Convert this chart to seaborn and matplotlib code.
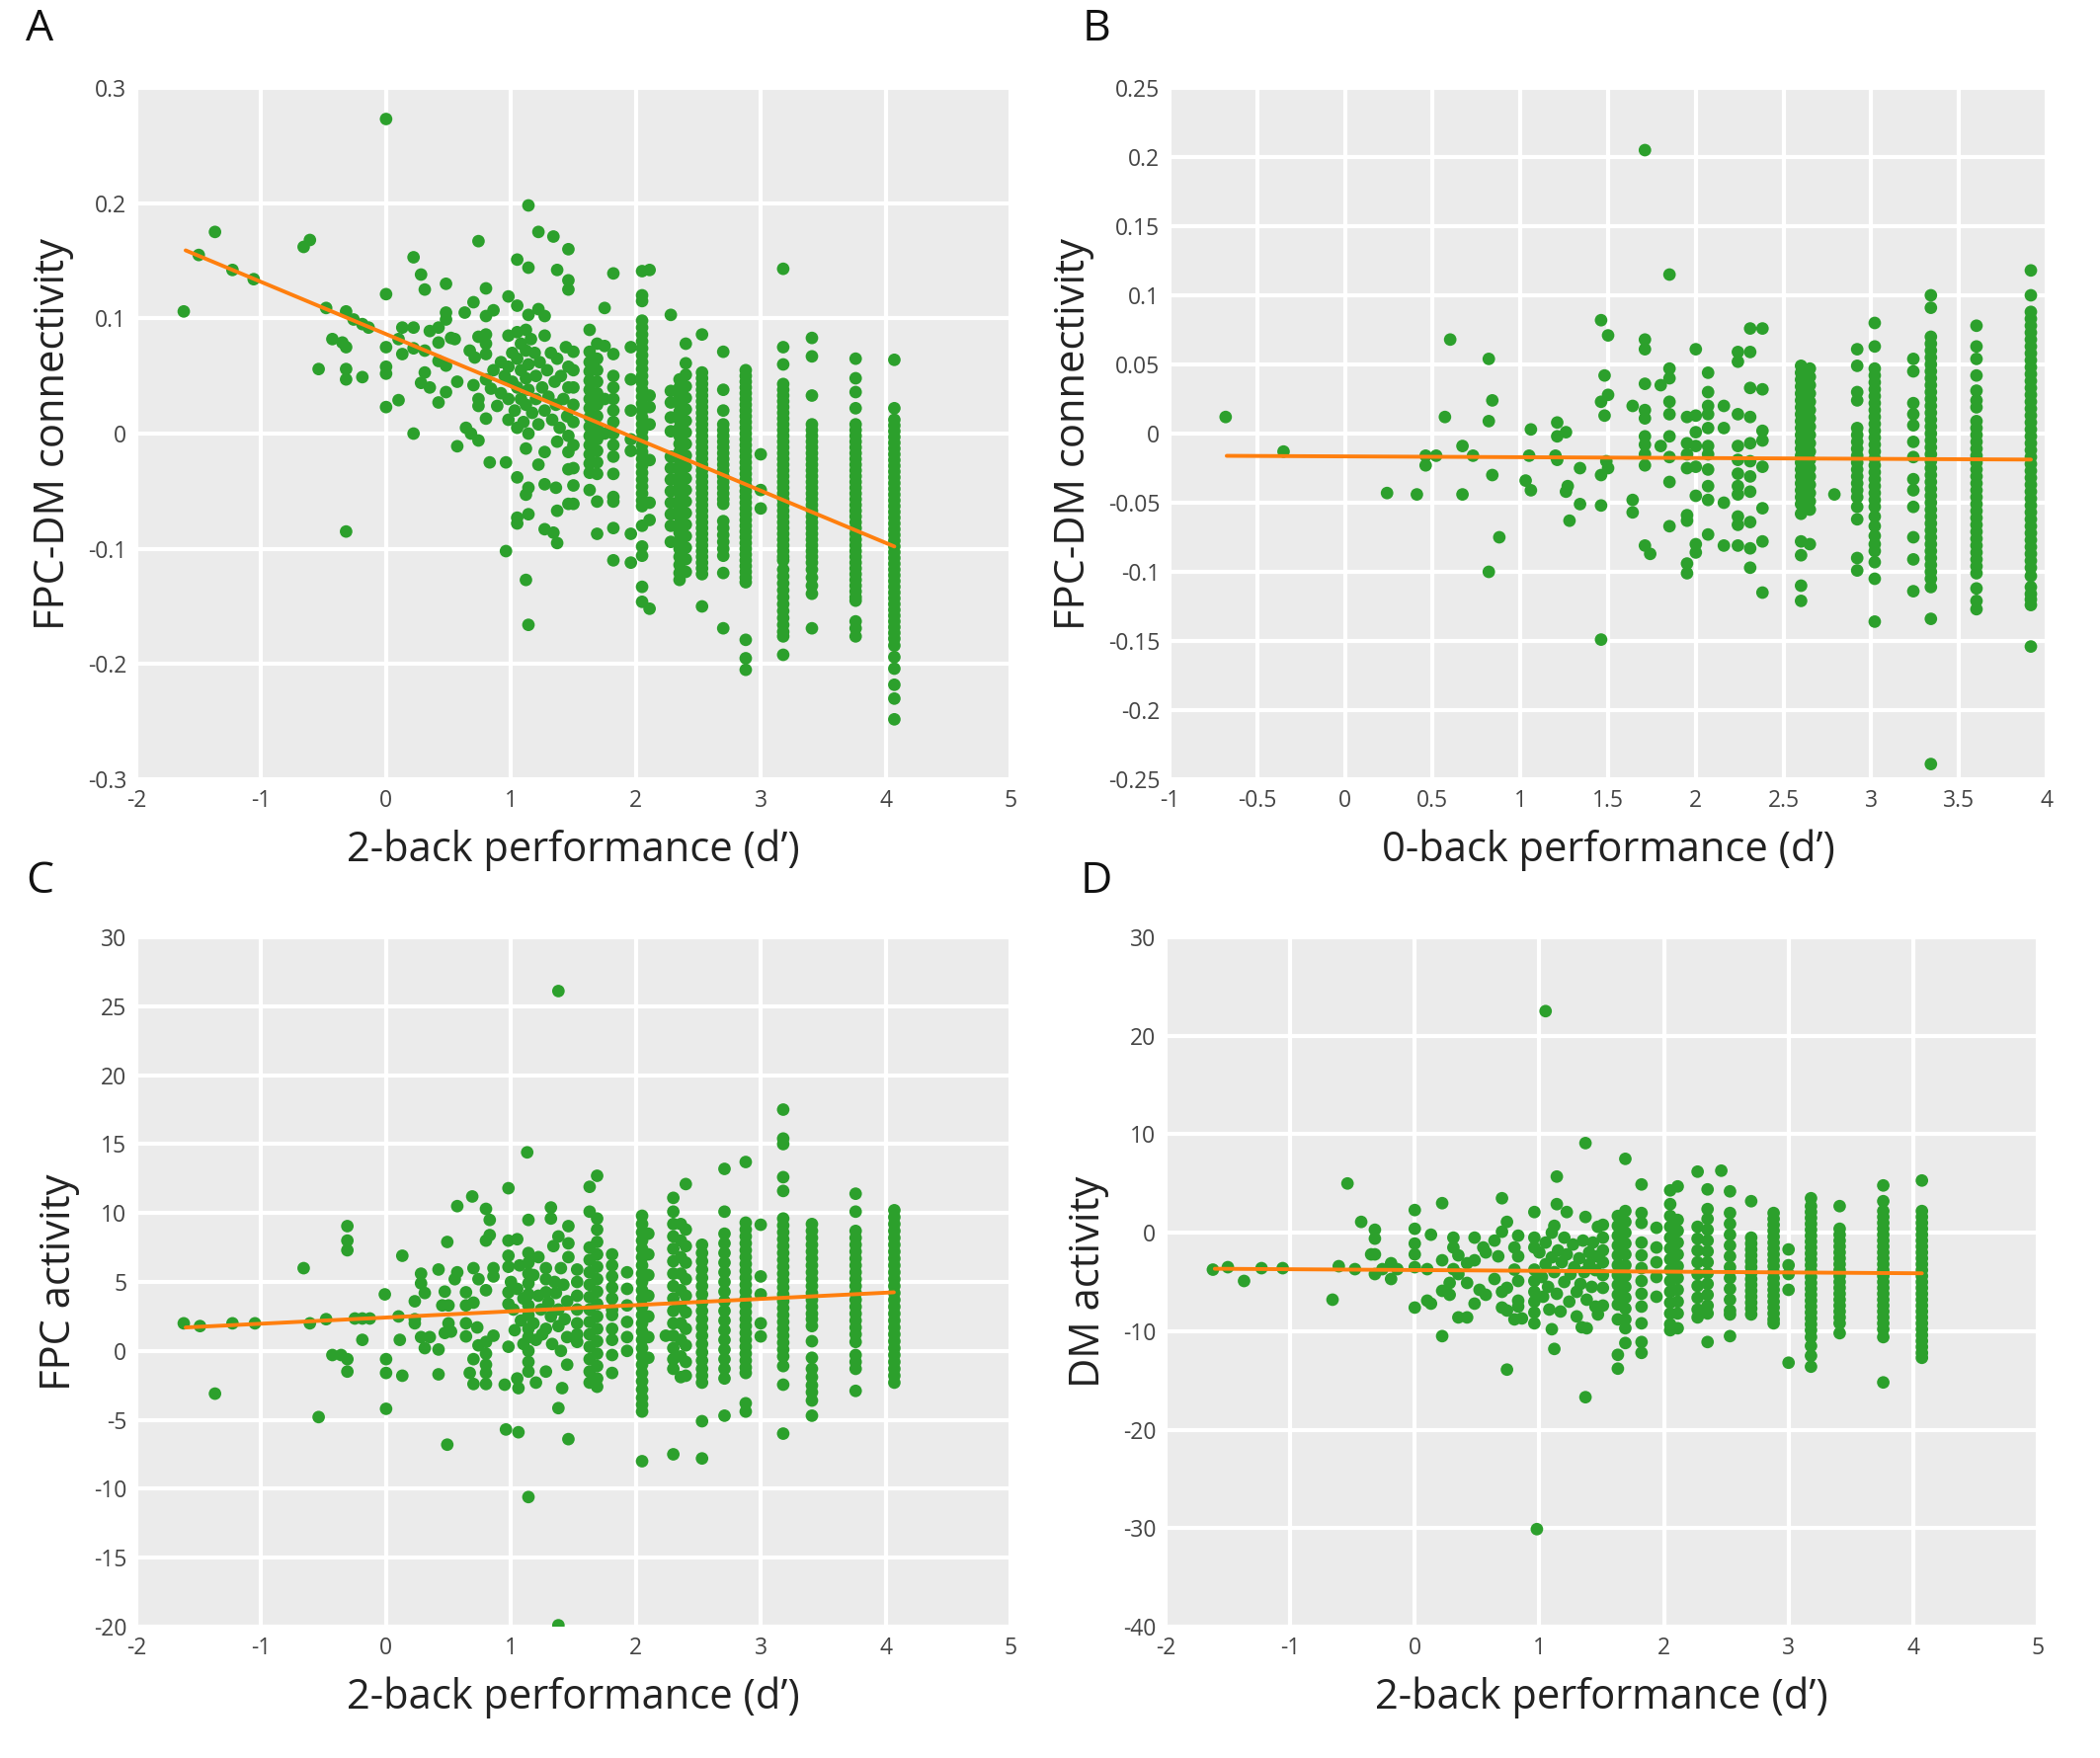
import numpy as np
import pandas as pd
import matplotlib
matplotlib.use("Agg")
import matplotlib.pyplot as plt
import seaborn as sns

# ---------------- Panel A: 2-back vs FPC-DM connectivity ----------------
A_x = [-1.62,-1.5,-1.37,-1.23,-1.06,-0.66,-0.61,-0.48,-0.54,-0.43,-0.35,-0.32,-0.32,-0.32,-0.32,-0.26,-0.19,-0.14,-0.19,-0.32,
       0,0,0,0,0,0,0.1,0.13,0.22,0.13,0.1,0.22,0.28,0.31,0.22,0.22,0.31,0.28,0.35,0.31,0.35,0.42,0.42,0.42,0.48,0.48,0.48,0.48,
       0.42,0.48,0.52,0.55,0.57,0.57,0.64,0.63,0.7,0.74,0.8,0.86,0.8,0.8,0.8,0.8,0.74,0.67,0.71,0.7,0.74,0.74,0.8,0.68,0.74,0.83,
       0.8,0.84,0.86,0.89,0.96,0.96,0.98,1.05,1.14,1.22,1.34,1.46,1.14,1.37,1.46,1.46,1.05,1.14,1.22,1.27,
       1.05,1.14,1.12,1.05,1.05,1.14,1.12,1.14,1.27,1.36,1.27,1.34,1.37,1.37,1.46,1.22,1.46,1.37,1.46,1.12,1.27,
       0.92,0.92,0.95,0.98,0.98,0.98,0.98,1.01,1.01,1.03,1.05,1.05,1.05,1.05,1.08,1.08,1.08,1.1,1.12,1.12,1.12,1.12,1.14,1.14,1.14,
       1.16,1.17,1.19,1.2,1.2,1.22,1.23,1.25,1.27,1.27,1.29,1.3,1.32,1.33,1.35,1.36,1.37,1.39,1.4,1.42,1.44,1.45,1.46,1.46,1.46]
A_y = [0.106,0.155,0.175,0.142,0.134,0.162,0.168,0.109,0.056,0.082,0.079,0.075,0.106,0.056,0.047,0.099,0.095,0.092,0.049,-0.085,
       0.273,0.121,0.075,0.058,0.052,0.023,0.082,0.092,0.092,0.069,0.029,0.153,0.138,0.125,0.0,0.074,0.072,0.044,0.04,0.053,0.089,
       0.092,0.079,0.027,0.13,0.105,0.099,0.036,0.063,0.059,0.083,0.082,0.045,-0.011,0.005,0.105,0.114,0.167,0.126,0.107,0.102,0.086,
       0.078,0.069,0.084,0.072,0.066,0.042,0.03,0.024,0.013,0.0,-0.006,-0.025,0.047,0.039,0.055,0.024,-0.025,-0.102,0.119,0.151,0.198,
       0.175,0.171,0.16,0.144,0.142,0.133,0.125,0.111,0.103,0.108,0.102,
       -0.038,-0.047,-0.053,-0.073,-0.078,-0.07,-0.127,-0.166,-0.044,-0.047,-0.083,-0.086,-0.095,-0.067,-0.061,-0.027,-0.031,-0.007,
       -0.016,-0.013,-0.016,
       0.062,0.035,0.05,0.085,0.058,0.03,0.012,0.07,0.045,0.02,0.088,0.065,0.04,0.005,0.078,0.055,0.03,0.01,0.09,0.072,0.048,0.025,
       0.06,0.038,0.0,0.082,0.018,0.07,0.05,0.03,0.008,0.062,0.04,0.085,0.02,0.055,0.032,0.07,0.012,0.045,0.025,0.065,0.005,0.05,
       0.03,0.075,0.015,0.058,0.04,-0.002]
A_col_x = [1.5, 1.63, 1.69, 1.75, 1.82, 1.96, 2.05, 2.11, 2.28, 2.35, 2.4, 2.53, 2.7, 2.88, 3.0, 3.18, 3.41, 3.76, 4.07]
A_col_y = [
    [0.071, 0.055, 0.04, 0.025, 0.01, -0.01, -0.03, -0.045, -0.061],
    [0.09, 0.071, 0.062, 0.054, 0.046, 0.038, 0.03, 0.022, 0.014, 0.006, -0.002, -0.01, -0.018, -0.026, -0.034, -0.049],
    [0.078, 0.065, 0.055, 0.045, 0.035, 0.025, 0.015, 0.005, -0.005, -0.015, -0.025, -0.035, -0.059, -0.087],
    [0.109, 0.076, 0.03, 0.0],
    [0.139, 0.069, 0.05, 0.04, 0.03, 0.02, 0.01, 0.0, -0.01, -0.02, -0.035, -0.055, -0.059, -0.082, -0.11],
    [0.075, 0.047, 0.02, -0.005, -0.015, -0.087, -0.112],
    [0.141, 0.12, 0.115, 0.098, 0.092, 0.086, 0.08, 0.074, 0.068, 0.062, 0.056, 0.05, 0.044, 0.038, 0.032, 0.026, 0.02,
     0.014, 0.008, 0.002, -0.004, -0.01, -0.016, -0.022, -0.028, -0.034, -0.04, -0.046, -0.052, -0.058, -0.063, -0.08,
     -0.098, -0.106, -0.133, -0.146],
    [0.142, 0.033, 0.023, 0.008, -0.023, -0.06, -0.075, -0.152],
    [0.103, 0.037, 0.027, 0.014, 0.002, -0.02, -0.03, -0.04, -0.05, -0.06, -0.07, -0.08, -0.094],
    [0.047, 0.04, 0.033, 0.026, 0.019, 0.012, 0.005, -0.002, -0.009, -0.016, -0.023, -0.03, -0.037, -0.044, -0.051, -0.058,
     -0.065, -0.072, -0.079, -0.086, -0.093, -0.1, -0.107, -0.114, -0.121, -0.127],
    [0.078, 0.061, 0.051, 0.041, 0.031, 0.021, 0.011, 0.001, -0.009, -0.019, -0.029, -0.039, -0.049, -0.059, -0.069, -0.079,
     -0.089, -0.099, -0.109, -0.12],
    [0.086, 0.053, 0.048, 0.043, 0.038, 0.033, 0.028, 0.023, 0.018, 0.013, 0.008, 0.003, -0.002, -0.007, -0.012, -0.017,
     -0.022, -0.027, -0.032, -0.037, -0.042, -0.047, -0.052, -0.057, -0.062, -0.067, -0.072, -0.077, -0.082, -0.087, -0.092,
     -0.097, -0.102, -0.107, -0.112, -0.117, -0.122, -0.15],
    [0.071, 0.038, 0.02, 0.008, 0.003, -0.002, -0.007, -0.012, -0.017, -0.022, -0.027, -0.032, -0.037, -0.042, -0.047, -0.052,
     -0.057, -0.061, -0.076, -0.082, -0.088, -0.094, -0.1, -0.106, -0.121, -0.169],
    [0.055, 0.05, 0.045, 0.04, 0.035, 0.03, 0.025, 0.02, 0.015, 0.01, 0.005, 0.0, -0.005, -0.01, -0.015, -0.02, -0.025, -0.03,
     -0.035, -0.04, -0.045, -0.05, -0.055, -0.06, -0.065, -0.07, -0.075, -0.08, -0.085, -0.09, -0.095, -0.1, -0.105, -0.11,
     -0.115, -0.12, -0.125, -0.129, -0.179, -0.195, -0.205],
    [-0.018, -0.049, -0.065],
    [0.143, 0.075, 0.06, 0.043, 0.038, 0.033, 0.028, 0.023, 0.018, 0.013, 0.008, 0.003, -0.002, -0.007, -0.012, -0.017, -0.022,
     -0.027, -0.032, -0.037, -0.042, -0.047, -0.052, -0.057, -0.062, -0.067, -0.072, -0.077, -0.082, -0.087, -0.092, -0.097,
     -0.102, -0.107, -0.11, -0.118, -0.124, -0.13, -0.136, -0.142, -0.148, -0.154, -0.16, -0.166, -0.172, -0.176, -0.192],
    [0.083, 0.067, 0.033, 0.008, 0.003, -0.002, -0.007, -0.012, -0.017, -0.022, -0.027, -0.032, -0.037, -0.042, -0.047, -0.052,
     -0.057, -0.062, -0.067, -0.072, -0.077, -0.082, -0.087, -0.092, -0.097, -0.102, -0.107, -0.112, -0.118, -0.125, -0.132,
     -0.139, -0.169],
    [0.065, 0.048, 0.036, 0.022, 0.008, 0.003, -0.002, -0.007, -0.012, -0.017, -0.022, -0.027, -0.032, -0.037, -0.042, -0.047,
     -0.052, -0.057, -0.062, -0.067, -0.072, -0.077, -0.082, -0.087, -0.092, -0.097, -0.102, -0.107, -0.112, -0.117, -0.122,
     -0.127, -0.132, -0.137, -0.142, -0.145, -0.163, -0.169, -0.176],
    [0.064, 0.022, 0.012, 0.007, 0.002, -0.003, -0.008, -0.013, -0.018, -0.023, -0.028, -0.033, -0.038, -0.043, -0.048, -0.053,
     -0.058, -0.063, -0.068, -0.073, -0.078, -0.083, -0.088, -0.093, -0.098, -0.103, -0.108, -0.113, -0.118, -0.123, -0.128,
     -0.133, -0.138, -0.143, -0.148, -0.153, -0.158, -0.163, -0.168, -0.173, -0.178, -0.184, -0.194, -0.204, -0.218, -0.23,
     -0.248],
]
A_fit_x = [-1.605, 4.07]
A_fit_y = [0.159, -0.098]

# ---------------- Panel B: 0-back vs FPC-DM connectivity ----------------
B_x = [-0.68,-0.35,0.24,0.41,0.46,0.52,0.46,0.57,0.6,0.67,0.73,0.67,0.82,0.84,0.82,0.84,0.88,0.82,1.06,1.05,1.03,1.06,1.21,1.26,
       1.21,1.2,1.21,1.34,1.27,1.26,1.34,1.28,1.46,1.5,1.48,1.5,1.46,1.48,1.46,1.46,1.46,1.49,1.5,
       1.71,1.85,1.71,1.71,1.71,1.64,1.71,1.71,1.71,1.71,1.71,1.71,1.64,1.64,1.71,1.74,1.8,1.85,1.85,1.85,1.85,1.8,1.85,1.85,1.85,
       1.85,1.95,2.0,1.95,1.95,1.95,2.0,2.0,2.0,2.0,2.0,1.95,1.95,1.95,1.95,2.0,2.0,2.79]
B_y = [0.012,-0.013,-0.043,-0.044,-0.016,-0.016,-0.023,0.012,0.068,-0.009,-0.016,-0.044,0.054,0.024,0.009,-0.03,-0.075,-0.1,0.003,
       -0.016,-0.034,-0.041,0.008,0.001,-0.002,-0.016,-0.019,-0.025,-0.038,-0.042,-0.051,-0.063,0.082,0.071,0.042,0.028,0.023,0.013,
       -0.03,-0.052,-0.149,-0.02,-0.025,
       0.205,0.115,0.068,0.061,0.036,0.02,0.017,0.011,-0.002,-0.008,-0.015,-0.023,-0.048,-0.057,-0.081,-0.087,0.035,0.047,0.04,0.023,
       0.014,-0.009,-0.002,-0.017,-0.035,-0.067,0.012,0.013,-0.007,-0.015,-0.025,0.061,0.001,-0.009,-0.024,-0.045,-0.059,-0.063,
       -0.094,-0.101,-0.08,-0.086,-0.044]
B_col_x = [2.07, 2.16, 2.24, 2.31, 2.38, 2.6, 2.65, 2.92, 3.02, 3.24, 3.34, 3.6, 3.91]
B_col_y = [
    [0.044, 0.03, 0.02, 0.014, 0.004, -0.009, -0.015, -0.026, -0.038, -0.048, -0.073],
    [0.02, 0.004, -0.05, -0.081],
    [0.059, 0.052, 0.014, -0.009, -0.019, -0.029, -0.038, -0.044, -0.06, -0.066, -0.081],
    [0.076, 0.059, 0.033, 0.012, -0.007, -0.02, -0.031, -0.042, -0.064, -0.083, -0.097],
    [0.076, 0.032, 0.002, -0.005, -0.024, -0.054, -0.078, -0.115],
    [0.049, 0.044, 0.039, 0.034, 0.029, 0.024, 0.019, 0.014, 0.009, 0.004, -0.001, -0.006, -0.011, -0.016, -0.021, -0.026,
     -0.031, -0.036, -0.041, -0.046, -0.051, -0.058, -0.078, -0.088, -0.11, -0.121],
    [0.047, 0.041, 0.035, 0.029, 0.023, 0.017, 0.011, 0.005, -0.001, -0.007, -0.013, -0.019, -0.025, -0.031, -0.037, -0.043,
     -0.049, -0.055, -0.08],
    [0.061, 0.049, 0.03, 0.024, 0.004, -0.001, -0.006, -0.011, -0.016, -0.021, -0.026, -0.031, -0.036, -0.041, -0.046, -0.053,
     -0.062, -0.09, -0.099],
    [0.08, 0.063, 0.047, 0.042, 0.037, 0.032, 0.027, 0.022, 0.017, 0.012, 0.007, 0.002, -0.003, -0.008, -0.013, -0.018, -0.023,
     -0.028, -0.033, -0.038, -0.043, -0.048, -0.053, -0.06, -0.067, -0.074, -0.08, -0.085, -0.093, -0.105, -0.136],
    [0.054, 0.045, 0.022, 0.014, 0.006, -0.006, -0.017, -0.033, -0.041, -0.053, -0.075, -0.091, -0.114],
    [0.1, 0.091, 0.07, 0.065, 0.06, 0.055, 0.05, 0.045, 0.04, 0.035, 0.03, 0.025, 0.02, 0.015, 0.01, 0.005, 0.0, -0.005, -0.01,
     -0.015, -0.02, -0.025, -0.03, -0.035, -0.04, -0.045, -0.05, -0.055, -0.06, -0.065, -0.07, -0.075, -0.08, -0.085, -0.09,
     -0.095, -0.1, -0.105, -0.111, -0.134, -0.239],
    [0.078, 0.063, 0.054, 0.042, 0.031, 0.024, 0.019, 0.009, 0.004, -0.001, -0.006, -0.011, -0.016, -0.021, -0.026, -0.031,
     -0.036, -0.041, -0.046, -0.051, -0.056, -0.061, -0.066, -0.071, -0.076, -0.081, -0.086, -0.091, -0.096, -0.101, -0.112,
     -0.121, -0.127],
    [0.118, 0.1, 0.088, 0.083, 0.078, 0.073, 0.068, 0.063, 0.058, 0.053, 0.048, 0.043, 0.038, 0.033, 0.028, 0.023, 0.018,
     0.013, 0.008, 0.003, -0.002, -0.007, -0.012, -0.017, -0.022, -0.027, -0.032, -0.037, -0.042, -0.047, -0.052, -0.057,
     -0.062, -0.067, -0.072, -0.077, -0.082, -0.087, -0.092, -0.097, -0.103, -0.111, -0.116, -0.12, -0.124, -0.154],
]
B_fit_x = [-0.674, 3.91]
B_fit_y = [-0.0161, -0.0188]

# ---------------- Panel C: 2-back vs FPC activity ----------------
C_x = [-1.62,-1.49,-1.37,-1.23,-1.05,-0.66,-0.61,-0.54,-0.48,-0.43,-0.36,-0.31,-0.31,-0.31,-0.31,-0.31,-0.25,-0.19,-0.13,-0.19,
       -0.01,0,0,0,0.1,0.11,0.13,0.13,0.23,0.23,0.23,0.28,0.28,0.31,0.28,0.35,0.31,0.42,0.42,0.42,0.49,0.49,0.47,0.5,0.45,0.52,
       0.5,0.47,0.57,0.55,0.57,0.69,0.8,0.83,0.8,0.83,0.64,0.64,0.7,0.64,0.64,0.73,0.7,0.74,0.8,0.67,0.7,0.8,0.74,0.8,0.7,0.8,0.8,
       0.86,0.86,0.86,0.8,0.95,0.96,0.98,0.98,1.05,0.98,0.98,0.98,0.98,0.98,1.05,1.06,1.06,1.13,1.14,1.14,
       1.14,1.14,1.14,1.14,1.14,1.14,1.14,1.14,1.14,1.14,1.14,1.14,
       1.2,1.32,1.32,1.28,1.28,1.28,1.28,1.28,1.34,1.38,1.38,1.38,1.41,1.38,1.46,1.46,1.46,1.46,
       1.0,1.02,1.03,1.05,1.07,1.08,1.1,1.1,1.18,1.18,1.2,1.22,1.22,1.24,1.25,1.3,1.32,1.33,1.35,1.36,1.38,1.38,1.4,1.4,1.42,
       1.43,1.45,1.45,1.45,2.24]
C_y = [2.0,1.8,-3.1,2.0,2.0,6.0,2.0,-4.8,2.3,-0.3,-0.3,-0.6,9.05,8.0,7.3,-1.5,2.35,2.35,2.35,0.8,
       4.1,-0.6,-1.6,-4.2,2.5,0.8,6.9,-1.8,3.6,2.3,2.0,5.6,4.9,4.2,1.0,1.0,0.2,5.9,0.1,-1.7,7.9,-6.8,4.3,3.3,3.3,1.4,
       2.0,1.3,10.5,5.2,5.7,11.2,10.3,9.5,8.0,8.4,4.25,3.3,3.5,2.0,1.05,1.7,6.0,5.2,4.4,-1.6,-2.4,-2.4,0.4,-0.2,-0.6,-1.0,-1.6,
       6.0,5.4,1.1,0.65,-2.45,-5.7,11.8,8.0,8.1,6.9,6.1,4.25,3.4,0.3,-2.0,-2.7,-5.9,14.4,9.5,-10.6,
       7.1,6.4,5.6,4.9,4.1,3.3,2.6,1.6,1.0,0.0,-0.8,-1.5,
       -2.3,10.4,9.6,6.0,5.2,4.25,1.6,-1.5,7.6,8.3,26.1,-4.15,-2.7,-19.9,9.05,7.8,6.8,-6.4,
       5.0,3.0,1.5,4.5,6.2,2.2,0.5,3.8,5.5,2.0,0.8,4.0,6.8,3.0,1.2,3.5,2.5,0.5,5.0,4.2,3.0,1.8,6.0,0.0,4.8,
       2.3,3.6,1.0,-1.0,1.1]
C_col_x = [1.53, 1.63, 1.69, 1.81, 1.93, 2.05, 2.1, 2.3, 2.36, 2.4, 2.53, 2.71, 2.88, 3.0, 3.18, 3.41, 3.76, 4.07]
C_col_y = [
    [5.9, 5.0, 4.0, 3.0, 2.0, 1.2, 0.65],
    [11.9, 10.1, 7.5, 6.6, 5.7, 4.8, 3.9, 3.0, 2.1, 1.2, 0.3, -0.6, -1.5, -2.3],
    [12.7, 9.6, 8.8, 7.9, 7.0, 6.1, 5.2, 4.3, 3.4, 2.5, 1.6, 0.7, -0.2, -1.1, -2.0, -2.6],
    [7.0, 6.2, 5.4, 4.6, 3.8, 3.0, 2.6, 1.6, 0.8, -0.3, -1.6],
    [5.7, 4.5, 3.3, 2.1, 1.0, 0.0],
    [9.8, 9.2, 8.6, 8.0, 7.4, 6.8, 6.2, 5.6, 5.0, 4.4, 3.8, 3.2, 2.6, 2.0, 1.4, 0.8, 0.2, -0.4, -1.0, -1.6, -2.2, -2.8,
     -3.4, -3.9, -4.4, -8.0],
    [8.5, 7.0, 5.5, 4.0, 2.5, 1.0, -0.5],
    [11.1, 10.1, 9.2, 8.3, 7.4, 6.5, 5.6, 4.7, 3.8, 2.9, 2.0, 1.1, 0.2, -0.6, -1.3, -7.5],
    [9.2, 8.0, 6.8, 5.6, 4.4, 3.2, 2.0, 0.8, -0.4, -1.9],
    [12.1, 8.8, 7.6, 6.4, 5.2, 4.0, 2.8, 1.6, 0.4, -0.8, -1.8],
    [7.7, 7.1, 6.5, 5.9, 5.3, 4.7, 4.1, 3.5, 2.9, 2.3, 1.7, 1.1, 0.5, -0.1, -0.7, -1.3, -1.8, -2.3, -5.1, -7.8],
    [13.2, 10.1, 8.5, 7.8, 7.1, 6.4, 5.7, 5.0, 4.3, 3.6, 2.9, 2.2, 1.5, 0.8, 0.1, -0.6, -1.3, -2.0, -4.7],
    [13.7, 9.3, 8.8, 8.3, 7.8, 7.3, 6.8, 6.3, 5.8, 5.3, 4.8, 4.3, 3.8, 3.3, 2.8, 2.3, 1.8, 1.3, 0.8, 0.3, -0.2, -0.7,
     -1.2, -1.6, -3.8, -4.4],
    [9.15, 5.4, 4.1, 2.0, 1.05],
    [17.5, 15.4, 15.0, 12.6, 11.6, 9.6, 9.1, 8.6, 8.1, 7.6, 7.1, 6.6, 6.1, 5.6, 5.1, 4.6, 4.1, 3.6, 3.1, 2.6, 2.1, 1.6,
     1.1, 0.6, 0.1, -0.4, -1.1, -2.45, -6.0],
    [9.2, 8.7, 8.2, 7.7, 7.2, 6.7, 6.2, 5.7, 5.2, 4.7, 4.2, 3.7, 3.2, 2.7, 2.3, 1.8, 0.7, -0.5, -1.3, -1.9, -2.5, -3.0,
     -3.6, -4.7],
    [11.4, 10.1, 8.7, 8.2, 7.7, 7.2, 6.7, 6.2, 5.7, 5.2, 4.7, 4.2, 3.7, 3.2, 2.7, 2.2, 1.7, 1.2, 0.65, -0.3, -0.8, -1.3, -2.9],
    [10.2, 9.7, 9.2, 8.7, 8.2, 7.7, 7.2, 6.7, 6.2, 5.7, 5.2, 4.7, 4.2, 3.7, 3.2, 2.7, 2.2, 1.7, 1.2, 0.7, 0.2, -0.3, -0.8,
     -1.3, -1.8, -2.3],
]
C_fit_x = [-1.605, 4.066]
C_fit_y = [1.7, 4.25]

# ---------------- Panel D: 2-back vs DM activity ----------------
D_x = [-1.62,-1.5,-1.37,-1.23,-1.06,-0.66,-0.54,-0.61,-0.48,-0.43,-0.32,-0.32,-0.35,-0.32,-0.32,-0.26,-0.19,-0.19,-0.14,
       0,0,0,0,0,0,0.1,0.1,0.13,0.13,0.22,0.22,0.22,0.28,0.28,0.22,0.31,0.31,0.35,0.31,0.35,0.35,0.42,0.42,0.48,0.48,0.42,0.48,
       0.55,0.57,0.52,0.57,0.64,0.67,0.64,0.7,0.7,0.74,0.7,0.74,0.7,0.74,0.74,0.8,0.86,0.83,0.8,0.83,0.8,0.83,0.83,0.83,
       0.96,0.96,0.96,0.96,0.96,0.96,0.96,0.96,0.96,0.98,1.05,1.14,1.14,1.22,1.12,1.1,1.12,1.37,1.37,1.37,1.34,1.38,1.47,1.47,
       1.0,1.02,1.03,1.05,1.05,1.07,1.08,1.1,1.1,1.12,1.14,1.15,1.17,1.18,1.2,1.2,1.22,1.24,1.25,1.27,1.28,1.3,1.3,1.32,1.33,
       1.35,1.36,1.38,1.4,1.4,1.42,1.43,1.45,1.45,1.46,2.46]
D_y = [-3.75,-3.5,-4.9,-3.6,-3.6,-6.8,5.0,-3.4,-3.7,1.1,0.3,-0.6,-2.2,-2.2,-4.2,-3.7,-3.1,-4.7,-3.7,
       2.3,0.4,-1.1,-2.2,-3.5,-7.6,-3.7,-6.9,-7.2,-0.2,3.0,-2.8,-5.9,-5.1,-6.3,-10.5,-0.5,-1.5,-2.3,-3.7,-4.2,-8.6,-8.6,-3.1,
       -2.8,-0.5,-5.1,-7.2,-1.5,-2.0,-5.8,-6.3,-0.8,-2.4,-4.7,3.5,0.1,1.1,-6.0,-5.6,-7.6,-7.9,-13.9,-8.8,-8.7,-0.3,-1.5,-2.4,
       -3.75,-4.9,-6.9,-7.5,2.1,-0.5,-1.5,-3.75,-4.9,-6.0,-7.0,-8.1,-9.2,-30.1,22.5,5.7,2.9,2.1,0.7,-9.8,-11.8,9.1,1.6,-16.7,
       -9.6,-9.7,0.6,-8.3,
       -2.0,-4.5,-6.5,-1.0,-3.2,-5.5,-7.8,-2.5,0.0,-4.0,-6.2,-1.8,-8.0,-3.0,-5.0,-0.5,-2.2,-7.0,-4.2,-1.2,-3.5,-6.0,-8.5,-2.6,
       -5.2,-0.8,-4.0,-6.8,-2.0,-3.2,-5.5,-1.0,-7.5,-3.8,-2.4,6.3]
D_col_x = [1.51, 1.63, 1.69, 1.82, 1.94, 2.05, 2.11, 2.27, 2.35, 2.53, 2.7, 2.88, 3.0, 3.18, 3.41, 3.76, 4.07]
D_col_y = [
    [0.8, -0.5, -1.8, -3.0, -4.3, -5.6, -7.4],
    [1.7, 0.7, -0.3, -1.3, -2.3, -3.3, -4.3, -5.3, -6.3, -7.3, -8.8, -12.4, -13.8],
    [7.5, 2.2, 1.1, 0.0, -1.1, -2.2, -3.3, -4.4, -5.5, -6.6, -7.7, -8.8, -9.7, -11.2],
    [4.9, 2.0, 1.0, -1.0, -2.3, -3.6, -4.9, -6.2, -7.5, -9.2, -11.1, -12.2],
    [0.5, -1.5, -3.0, -4.5, -6.5],
    [4.3, 2.9, 1.7, 0.6, -0.5, -1.6, -2.7, -3.8, -4.9, -6.0, -7.1, -8.2, -9.3, -9.9],
    [4.7, 1.3, 0.2, -1.0, -2.2, -3.4, -4.6, -5.8, -7.0, -8.2, -9.7],
    [6.2, 0.6, -0.6, -1.8, -3.0, -4.2, -5.4, -6.6, -7.8, -8.6],
    [4.4, 2.4, 1.4, 0.3, -0.8, -1.9, -3.0, -4.1, -5.2, -6.3, -7.4, -8.2, -11.1],
    [4.2, 2.0, 0.9, -0.2, -1.3, -2.4, -3.5, -4.6, -5.7, -6.8, -7.9, -8.3, -10.5],
    [3.2, -0.5, -1.1, -1.7, -2.3, -2.9, -3.5, -4.1, -4.7, -5.3, -5.9, -6.5, -7.1, -7.7, -8.3],
    [2.0, 1.4, 0.8, 0.2, -0.4, -1.0, -1.6, -2.2, -2.8, -3.4, -4.0, -4.6, -5.2, -5.8, -6.4, -7.0, -7.6, -8.2, -8.8, -9.2],
    [-1.7, -3.3, -4.2, -5.8, -13.2],
    [3.5, 2.7, 2.1, 1.5, 0.9, 0.3, -0.3, -0.9, -1.5, -2.1, -2.7, -3.3, -3.9, -4.5, -5.1, -5.7, -6.3, -6.9, -7.5, -8.1, -8.7,
     -9.3, -9.9, -10.6, -11.5, -12.5, -13.6],
    [2.7, 0.4, -0.2, -0.8, -1.4, -2.0, -2.6, -3.2, -3.8, -4.4, -5.0, -5.6, -6.2, -6.8, -7.4, -8.0, -8.6, -9.2, -10.2],
    [4.8, 3.2, 2.2, 1.6, 1.0, 0.4, -0.2, -0.8, -1.4, -2.0, -2.6, -3.2, -3.8, -4.4, -5.0, -5.6, -6.2, -6.8, -7.4, -8.0, -8.6,
     -9.2, -9.8, -10.6, -15.2],
    [5.3, 2.2, 1.6, 1.0, 0.4, -0.2, -0.8, -1.4, -2.0, -2.6, -3.2, -3.8, -4.4, -5.0, -5.6, -6.2, -6.8, -7.4, -8.0, -8.6, -9.2,
     -9.8, -10.4, -11.0, -11.6, -12.2, -12.7],
]
D_fit_x = [-1.605, 4.07]
D_fit_y = [-3.66, -4.12]

# ---------------- Axis text ----------------
xlabels = ["2-back performance (d\u2019)", "0-back performance (d\u2019)",
           "2-back performance (d\u2019)", "2-back performance (d\u2019)"]
ylabels = ["FPC-DM connectivity", "FPC-DM connectivity", "FPC activity", "DM activity"]
panel_letters = ["A", "B", "C", "D"]

x_ticks_2back = [-2, -1, 0, 1, 2, 3, 4, 5]
x_ticklabels_2back = ["-2", "-1", "0", "1", "2", "3", "4", "5"]
x_ticks_0back = [-1, -0.5, 0, 0.5, 1, 1.5, 2, 2.5, 3, 3.5, 4]
x_ticklabels_0back = ["-1", "-0.5", "0", "0.5", "1", "1.5", "2", "2.5", "3", "3.5", "4"]
y_ticks_A = [-0.3, -0.2, -0.1, 0, 0.1, 0.2, 0.3]
y_ticklabels_A = ["-0.3", "-0.2", "-0.1", "0", "0.1", "0.2", "0.3"]
y_ticks_B = [-0.25, -0.2, -0.15, -0.1, -0.05, 0, 0.05, 0.1, 0.15, 0.2, 0.25]
y_ticklabels_B = ["-0.25", "-0.2", "-0.15", "-0.1", "-0.05", "0", "0.05", "0.1", "0.15", "0.2", "0.25"]
y_ticks_C = [-20, -15, -10, -5, 0, 5, 10, 15, 20, 25, 30]
y_ticklabels_C = ["-20", "-15", "-10", "-5", "0", "5", "10", "15", "20", "25", "30"]
y_ticks_D = [-40, -30, -20, -10, 0, 10, 20, 30]
y_ticklabels_D = ["-40", "-30", "-20", "-10", "0", "10", "20", "30"]


def build(px, py, cx, cy):
    xs = list(px)
    ys = list(py)
    for x0, col in zip(cx, cy):
        xs += [x0] * len(col)
        ys += list(col)
    return pd.DataFrame({"x": xs, "y": ys})


frames = [build(A_x, A_y, A_col_x, A_col_y), build(B_x, B_y, B_col_x, B_col_y),
          build(C_x, C_y, C_col_x, C_col_y), build(D_x, D_y, D_col_x, D_col_y)]
fits = [pd.DataFrame({"x": A_fit_x, "y": A_fit_y}), pd.DataFrame({"x": B_fit_x, "y": B_fit_y}),
        pd.DataFrame({"x": C_fit_x, "y": C_fit_y}), pd.DataFrame({"x": D_fit_x, "y": D_fit_y})]

sns.set_theme(style="darkgrid")
plt.rcParams["font.family"] = ["Open Sans", "DejaVu Sans"]
plt.rcParams["axes.unicode_minus"] = False

W, H = 2126, 1780
fig = plt.figure(figsize=(W / 100, H / 100), dpi=100)
fig.patch.set_facecolor("white")

boxes = [(138, 89, 1023, 789), (1184, 89, 2072, 789), (138, 949, 1023, 1647), (1180, 949, 2063, 1647)]
xt = [(x_ticks_2back, x_ticklabels_2back), (x_ticks_0back, x_ticklabels_0back),
      (x_ticks_2back, x_ticklabels_2back), (x_ticks_2back, x_ticklabels_2back)]
yt = [(y_ticks_A, y_ticklabels_A), (y_ticks_B, y_ticklabels_B), (y_ticks_C, y_ticklabels_C), (y_ticks_D, y_ticklabels_D)]
letter_pos = [(40, 30), (1110, 30), (40, 893), (1110, 893)]

green = "#2ca02c"
orange = "#ff7f0e"

for i in range(4):
    l, t, r, b = boxes[i]
    ax = fig.add_axes([l / W, 1 - b / H, (r - l) / W, (b - t) / H])
    ax.set_facecolor("#ebebeb")
    sns.scatterplot(data=frames[i], x="x", y="y", ax=ax, s=84, color=green, alpha=1,
                    linewidth=0, edgecolor="none", zorder=3)
    sns.lineplot(data=fits[i], x="x", y="y", ax=ax, color=orange, lw=2.8, estimator=None,
                 sort=True, zorder=4)
    ticks, labs = xt[i]
    ax.set_xticks(ticks)
    ax.set_xticklabels(labs)
    ax.set_xlim(ticks[0], ticks[-1])
    ticks, labs = yt[i]
    ax.set_yticks(ticks)
    ax.set_yticklabels(labs)
    ax.set_ylim(ticks[0], ticks[-1])
    ax.grid(True, color="white", lw=3.0)
    ax.set_axisbelow(True)
    for s in ax.spines.values():
        s.set_visible(False)
    ax.tick_params(length=0, labelsize=16.5, labelcolor="#444444", pad=7)
    ax.set_xlabel(xlabels[i], fontsize=30, color="#222222", labelpad=12)
    ax.set_ylabel(ylabels[i], fontsize=30, color="#222222", labelpad=10)
    lx, ly = letter_pos[i]
    fig.text(lx / W, 1 - ly / H, panel_letters[i], fontsize=32, color="#111111", va="center", ha="center")

fig.savefig("out.png", dpi=100)
